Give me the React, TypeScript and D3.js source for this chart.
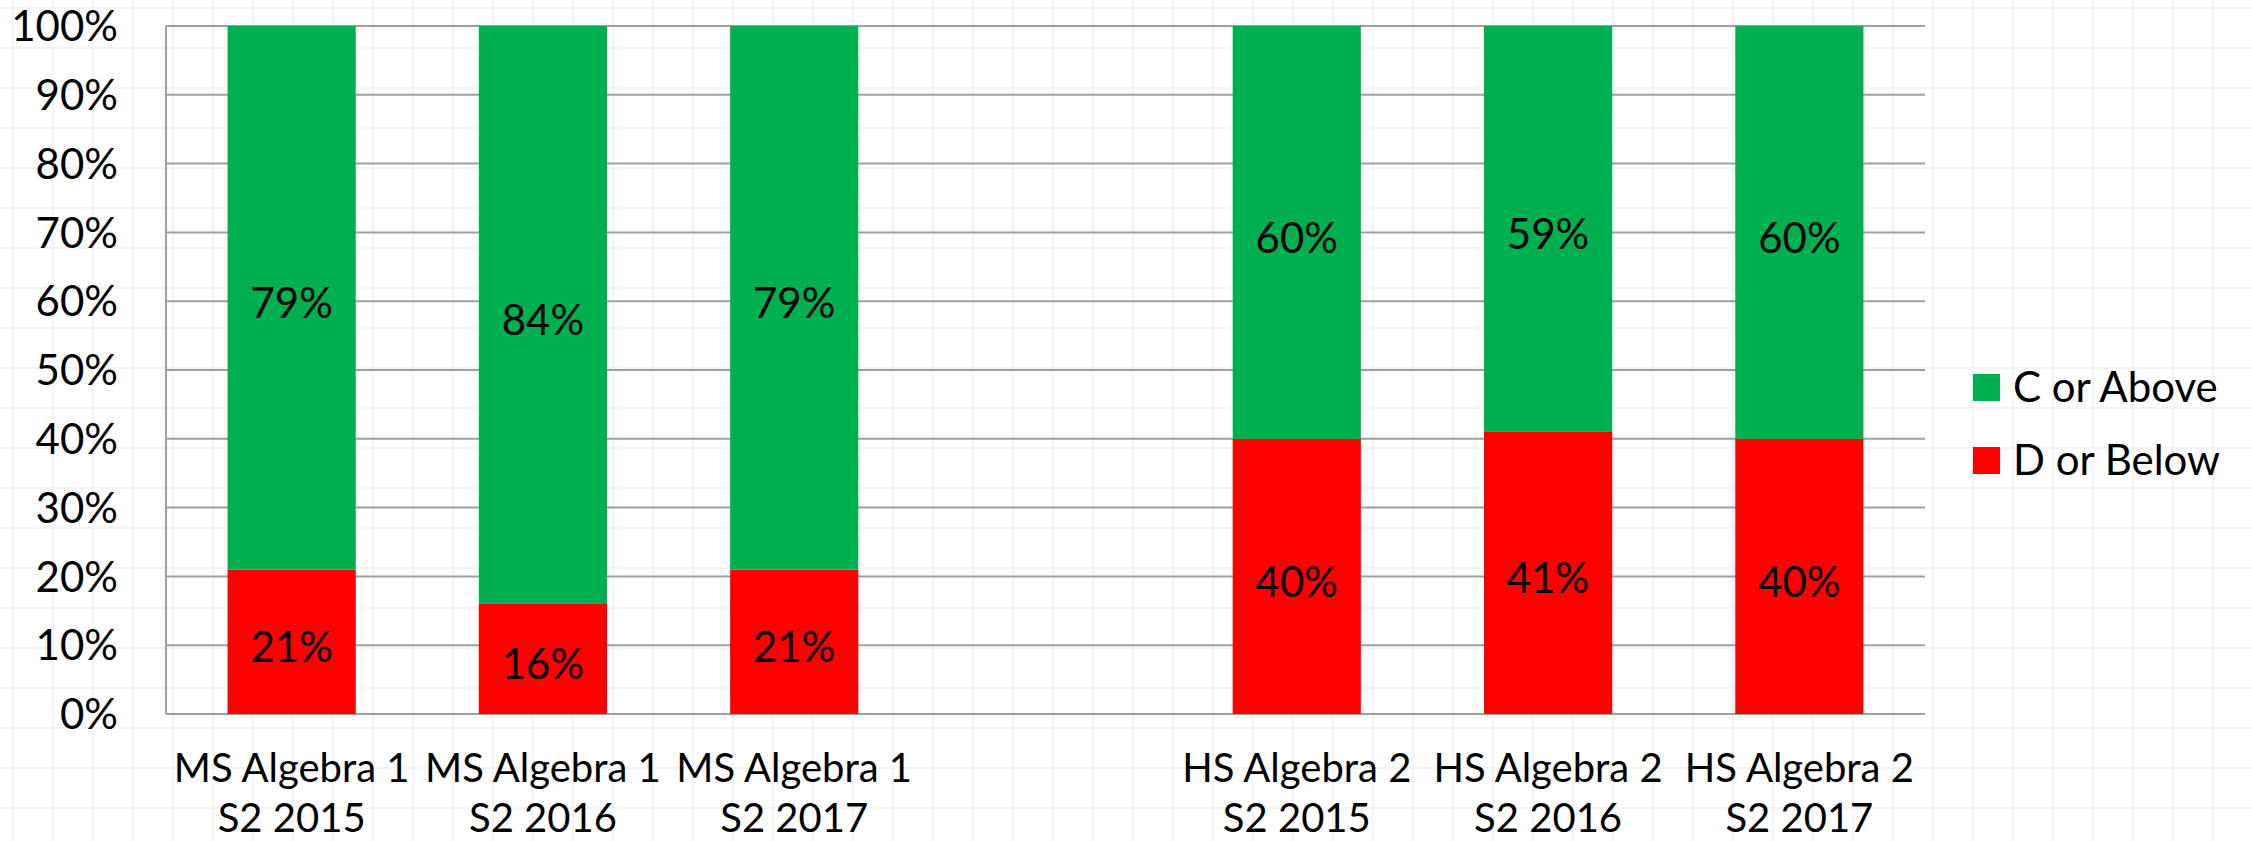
import React from "react";
import * as d3 from "d3";

const categories: string[] = [
  "MS Algebra 1|S2 2015",
  "MS Algebra 1|S2 2016",
  "MS Algebra 1|S2 2017",
  "",
  "HS Algebra 2|S2 2015",
  "HS Algebra 2|S2 2016",
  "HS Algebra 2|S2 2017",
];
const dOrBelow: (number | null)[] = [21, 16, 21, null, 40, 41, 40];
const cOrAbove: (number | null)[] = [79, 84, 79, null, 60, 59, 60];
const seriesNames = ["C or Above", "D or Below"];
const seriesColors = ["#00B050", "#FF0000"];
const yTicks: number[] = [0, 10, 20, 30, 40, 50, 60, 70, 80, 90, 100];

const W = 2252;
const H = 841;
const FONT = "Lato, 'Open Sans', sans-serif";
const FS = 42;
const XFS = 40;

export default function App() {
  const left = 166, right = 1925, top = 26, bottom = 714;
  const x = d3.scaleBand<number>().domain(categories.map((_, i) => i)).range([left, right]).paddingInner(0).paddingOuter(0);
  const y = d3.scaleLinear().domain([0, 100]).range([bottom, top]);
  const barW = x.bandwidth() * 0.51;

  const bgV = d3.range(13, W, 40);
  const bgH = d3.range(8, H, 40);

  return (
    <svg width={W} height={H} style={{ position: "fixed", left: 0, top: 0, background: "#fff" }} fontFamily={FONT}>
      <g stroke="#f4f4f4" strokeWidth={2}>
        {bgV.map((v) => <line key={"v" + v} x1={v} x2={v} y1={0} y2={H} />)}
        {bgH.map((v) => <line key={"h" + v} x1={0} x2={W} y1={v} y2={v} />)}
      </g>
      <g stroke="#a0a0a0" strokeWidth={2}>
        {yTicks.map((t) => <line key={t} x1={left} x2={right} y1={y(t)} y2={y(t)} />)}
        <line x1={left} x2={left} y1={top} y2={bottom} />
      </g>
      <g fontSize={FS} fill="#000" textAnchor="end">
        {yTicks.map((t) => (
          <text key={t} x={118} y={y(t) + FS * 0.36}>{t}%</text>
        ))}
      </g>
      {categories.map((c, i) => {
        const d = dOrBelow[i];
        const g = cOrAbove[i];
        if (d == null || g == null) return null;
        const cx = (x(i) as number) + x.bandwidth() / 2;
        const x0 = cx - barW / 2;
        const yD = y(d);
        const yG = y(d + g);
        return (
          <g key={i}>
            <rect x={x0} y={yD} width={barW} height={bottom - yD} fill={seriesColors[1]} />
            <rect x={x0} y={yG} width={barW} height={yD - yG} fill={seriesColors[0]} />
            <text x={cx} y={(yD + bottom) / 2 + 5 + FS * 0.36} textAnchor="middle" fontSize={FS}>{d}%</text>
            <text x={cx} y={(yG + yD) / 2 + 5 + FS * 0.36} textAnchor="middle" fontSize={FS}>{g}%</text>
          </g>
        );
      })}
      <g fontSize={XFS} textAnchor="middle">
        {categories.map((c, i) => {
          if (!c) return null;
          const [l1, l2] = c.split("|");
          const cx = (x(i) as number) + x.bandwidth() / 2;
          return (
            <text key={i} x={cx}>
              <tspan x={cx} y={782}>{l1}</tspan>
              <tspan x={cx} y={832}>{l2}</tspan>
            </text>
          );
        })}
      </g>
      <g fontSize={FS}>
        {seriesNames.map((n, i) => (
          <g key={n}>
            <rect x={1973} y={374 + i * 73} width={27} height={27} fill={seriesColors[i]} />
            <text x={2013} y={387 + i * 73 + FS * 0.36}>{n}</text>
          </g>
        ))}
      </g>
    </svg>
  );
}
